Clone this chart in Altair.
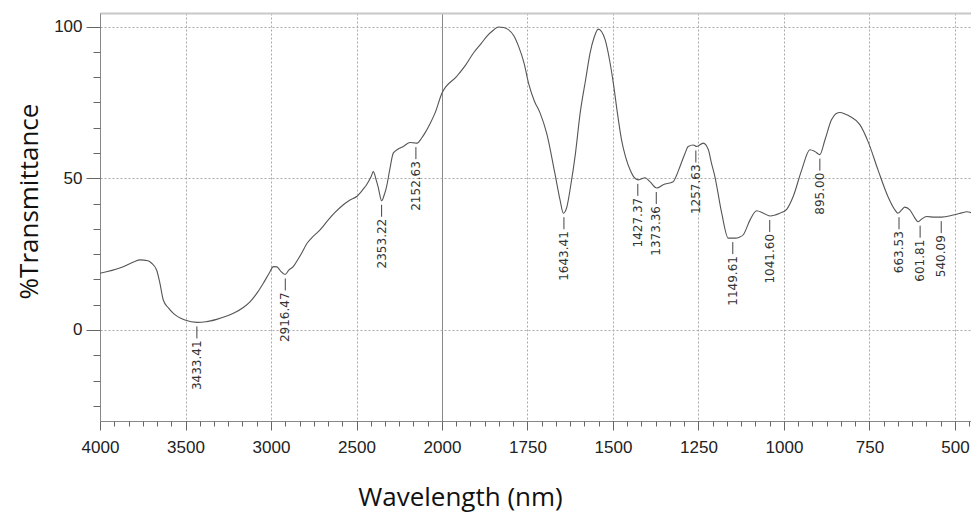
import altair as alt
import pandas as pd

# Spectrum trace (wavenumber, %T)
wavenumber = [4000, 3880, 3800, 3766, 3720, 3698, 3669, 3650, 3630, 3600, 3571, 3503, 3433, 3380, 3318,
              3220, 3160, 3123, 3080, 3045, 3010, 2986, 2965, 2945, 2918, 2895, 2870, 2840, 2821, 2790,
              2763, 2713, 2665, 2630, 2577, 2540, 2499, 2460, 2441, 2415, 2402, 2385, 2372, 2353, 2338,
              2324, 2305, 2285, 2260, 2226, 2187, 2165, 2145, 2120, 2100, 2070, 2041, 2000, 1957, 1930,
              1908, 1885, 1869, 1850, 1835, 1820, 1806, 1790, 1776, 1760, 1747, 1730, 1713, 1694, 1670,
              1655, 1645, 1635, 1624, 1610, 1596, 1580, 1567, 1555, 1543, 1533, 1523, 1510, 1499, 1487,
              1475, 1463, 1450, 1438, 1426, 1406, 1392, 1372, 1353, 1324, 1314, 1304, 1290, 1280, 1265,
              1255, 1236, 1221, 1212, 1202, 1182, 1163, 1143, 1130, 1119, 1099, 1080, 1060, 1041, 1012,
              992, 973, 948, 924, 909, 895, 880, 861, 848, 836, 820, 807, 778, 754, 725,
              696, 675, 667, 655, 647, 632, 617, 608, 598, 583, 559, 539, 505, 480, 466,
              446, 431]
transmittance = [18.7, 20.5, 22.5, 23.1, 22.8, 22.0, 19.8, 15.5, 9.9, 7.3, 5.5, 3.3, 2.5, 2.7, 3.5,
                 5.5, 7.5, 9.3, 12.3, 15.4, 18.8, 20.9, 20.8, 19.5, 18.3, 19.8, 20.9, 23.5, 25.3, 28.5,
                 30.3, 33.0, 36.3, 38.5, 41.3, 42.8, 44.0, 46.5, 47.9, 50.5, 52.2, 49.5, 46.8, 42.6, 44.5,
                 47.3, 53.0, 58.3, 59.5, 60.5, 61.8, 61.7, 61.6, 63.2, 64.9, 68.0, 71.5, 78.1, 83.6, 87.5,
                 91.3, 94.5, 96.8, 98.8, 99.9, 99.7, 99.0, 97.0, 93.5, 88.0, 81.4, 75.5, 71.5, 64.9, 51.7,
                 43.0, 38.5, 40.5, 47.3, 58.0, 71.5, 82.5, 91.3, 96.5, 99.2, 98.3, 95.7, 89.0, 81.4, 71.5,
                 62.7, 57.0, 52.8, 50.3, 49.5, 50.2, 48.9, 46.8, 47.9, 48.9, 51.0, 53.9, 58.0, 60.5, 61.0,
                 60.5, 61.6, 59.4, 55.0, 50.6, 38.5, 30.3, 30.3, 30.6, 31.4, 36.3, 39.3, 38.5, 37.6, 38.5,
                 39.8, 44.0, 52.8, 59.4, 58.8, 57.8, 62.7, 69.3, 71.3, 71.7, 71.1, 70.4, 67.7, 62.1, 52.8,
                 44.0, 39.5, 38.5, 39.7, 40.5, 39.6, 36.9, 35.7, 36.5, 37.4, 37.2, 37.2, 37.9, 38.6, 39.0,
                 38.3, 36.3]

# Peak annotations
peak_labels = ["3433.41", "2916.47", "2353.22", "2152.63", "1643.41", "1427.37", "1373.36",
               "1257.63", "1149.61", "1041.60", "895.00", "663.53", "601.81", "540.09"]
peak_pos = [3433.41, 2916.47, 2353.22, 2152.63, 1643.41, 1427.37, 1373.36,
            1257.63, 1149.61, 1041.60, 895.00, 663.53, 601.81, 540.09]
peak_T = [2.5, 18.3, 42.6, 61.6, 38.5, 49.5, 46.8, 60.5, 30.3, 37.6, 57.8, 38.5, 35.7, 37.2]

x_major = [4000, 3500, 3000, 2500, 2000, 1750, 1500, 1250, 1000, 750, 500]
y_major = [0, 50, 100]

spec = pd.DataFrame({"w": wavenumber, "t": transmittance})
peaks = pd.DataFrame({"w": peak_pos, "t": peak_T, "label": peak_labels})

x_minor = sorted(set([round(4000 - k * 500 / 6, 3) for k in range(0, 25)] +
                     [round(2000 - k * 250 / 6, 3) for k in range(0, 38)]), reverse=True)
y_minor = [round(-25 + k * 50 / 6, 3) for k in range(0, 16)]

W, H = 871, 408
x_scale = alt.Scale(domain=[4000, 2000, 453], range=[0, 342, W], zero=False, nice=False)
y_scale = alt.Scale(domain=[-30, 104.5], zero=False, nice=False)

tick_font = "Liberation Sans Narrow, Liberation Sans, Arial, sans-serif"
title_font = "Open Sans, Noto Sans, sans-serif"

x_axis_major = alt.Axis(
    orient="bottom", values=x_major, format="d",
    labelFont=tick_font, labelFontSize=17, labelColor="#222", labelPadding=9,
    labelFlush=False, labelOverlap=False,
    tickSize=9, tickColor="#666",
    grid=True,
    gridDash={"condition": {"test": "datum.value == 2000", "value": []}, "value": [2, 2]},
    gridColor={"condition": {"test": "datum.value == 2000", "value": "#888"}, "value": "#aaa"},
    domainColor="#888",
    title="Wavelength (nm)", titleFont=title_font, titleFontSize=26, titleFontWeight="normal",
    titleColor="#111", titleX=360, titleY=84, titleBaseline="alphabetic", titleAnchor="middle",
    titleAlign="center",
)
x_axis_minor = alt.Axis(
    orient="bottom", values=x_minor, labels=False, tickSize=5, tickColor="#666",
    grid=False, domain=False, title=None,
)
x_axis_top = alt.Axis(
    orient="top", labels=False, ticks=False, grid=False, title=None,
    domainColor="#c8c8c8", domainWidth=2,
)

y_axis_major = alt.Axis(
    orient="left", values=y_major, format="d",
    labelFont=tick_font, labelFontSize=17, labelColor="#222", labelPadding=4,
    labelFlush=False, labelOverlap=False,
    tickSize=14, tickColor="#666",
    grid=True, gridDash=[2, 2], gridColor="#aaa",
    domainColor="#888",
    title="%Transmittance", titleFont=title_font, titleFontSize=26, titleFontWeight="normal",
    titleColor="#111", titleX=-63, titleY=188, titleAngle=270, titleBaseline="alphabetic",
    titleAlign="center",
)
y_axis_minor = alt.Axis(
    orient="left", values=y_minor, labels=False, tickSize=7, tickColor="#666",
    grid=False, domain=False, title=None,
)

line = alt.Chart(spec).mark_line(color="#555", strokeWidth=1.1, interpolate="monotone", clip=True).encode(
    x=alt.X("w:Q", scale=x_scale, axis=x_axis_major),
    y=alt.Y("t:Q", scale=y_scale, axis=y_axis_major),
)

dash = alt.Chart(peaks).mark_rule(color="#444", strokeWidth=1, yOffset=4, y2Offset=16).encode(
    x=alt.X("w:Q", scale=x_scale, axis=x_axis_minor),
    y=alt.Y("t:Q", scale=y_scale, axis=y_axis_minor),
    y2="t:Q",
)

text = alt.Chart(peaks).mark_text(
    angle=270, align="right", baseline="middle", yOffset=18,
    font="DejaVu Sans, sans-serif", fontSize=12, color="#333",
).encode(
    x=alt.X("w:Q", scale=x_scale, axis=x_axis_top),
    y=alt.Y("t:Q", scale=y_scale, axis=None),
    text="label:N",
)

chart = alt.layer(line, dash, text).resolve_axis(x="independent", y="independent").properties(
    width=W, height=H,
    autosize=alt.AutoSizeParams(type="none"),
    padding={"left": 92, "top": 5, "right": 0, "bottom": 91},
    background="white",
).configure_view(stroke=None)

chart.save("out.html", embed_options={"renderer": "svg", "actions": False})
